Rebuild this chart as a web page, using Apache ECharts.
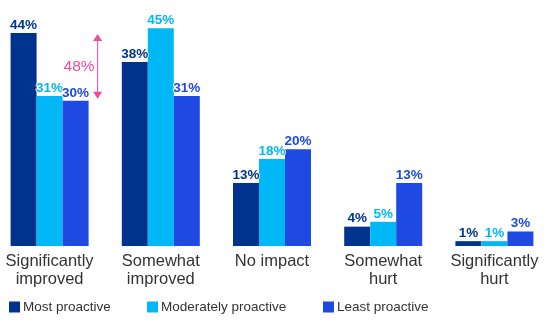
<!DOCTYPE html>
<html><head><meta charset="utf-8">
<script src="https://cdn.jsdelivr.net/npm/echarts@6/dist/echarts.min.js"></script>
<style>html,body{margin:0;padding:0;background:#fff;overflow:hidden;width:547px;height:323px;position:relative}#c{position:absolute;left:-6px;top:0;width:556px;height:323px}</style>
</head><body><div id="c"></div>
<script>
const categories = ['Significantly\nimproved', 'Somewhat\nimproved', 'No impact', 'Somewhat\nhurt', 'Significantly\nhurt'];
const seriesNames = ['Most proactive', 'Moderately proactive', 'Least proactive'];
const mostProactive = [44, 38, 13, 4, 1];
const moderatelyProactive = [31, 45, 18, 5, 1];
const leastProactive = [30, 31, 20, 13, 3];
const colors = ['#00338D', '#00B8F5', '#1E49E2'];
const annotationText = '48%';
const annotationRange = [44, 30];

const font = 'Liberation Sans, Arial, sans-serif';
const values = [mostProactive, moderatelyProactive, leastProactive];
const chart = echarts.init(document.getElementById('c'), null, {renderer: 'canvas'});

const series = values.map((v, i) => ({
  name: seriesNames[i],
  type: 'bar',
  data: v,
  barWidth: 26,
  barGap: '0%',
  itemStyle: {color: colors[i]},
  label: {
    show: true, position: 'top', distance: 1,
    formatter: '{c}%', color: colors[i], fontFamily: font,
    fontWeight: 'bold', fontSize: 13.5,
    textBorderColor: '#fff', textBorderWidth: 1.5
  },
  emphasis: {disabled: true}
}));

// the chart canvas is shifted 6px left, so legend offsets include +6
const legendX = [15, 153, 329];
const legends = seriesNames.map((n, i) => ({
  data: [n], left: legendX[i], top: 300, itemWidth: 11, itemHeight: 11,
  itemGap: 0, icon: 'rect', selectedMode: false,
  textStyle: {color: '#333', fontSize: 13.5, fontFamily: font, padding: [0, 0, 0, -2]},
  padding: 0
}));

chart.setOption({
  animation: false,
  color: colors,
  legend: legends,
  grid: {left: 0, right: 0, top: 4, bottom: 77, containLabel: false},
  xAxis: {
    type: 'category', data: categories,
    axisLine: {show: false}, axisTick: {show: false},
    axisLabel: {color: '#333', fontSize: 16.5, fontFamily: font, lineHeight: 18, margin: 6, interval: 0}
  },
  yAxis: {type: 'value', min: 0, max: 50, show: false, splitLine: {show: false}},
  series: series
});

// annotation arrow between the "Most" and "Least" values of the first category
const yTop = chart.convertToPixel({yAxisIndex: 0}, annotationRange[0]);
const yBot = chart.convertToPixel({yAxisIndex: 0}, annotationRange[1]);
const xc = chart.convertToPixel({xAxisIndex: 0}, 0);
const ax = xc + 48;
const pink = '#EE4B9B';
chart.setOption({
  graphic: [
    {type: 'line', shape: {x1: ax, y1: yTop + 6, x2: ax, y2: yBot - 6}, style: {stroke: pink, lineWidth: 1}},
    {type: 'polygon', shape: {points: [[ax, yTop + 1], [ax - 4.5, yTop + 8], [ax + 4.5, yTop + 8]]}, style: {fill: pink}},
    {type: 'polygon', shape: {points: [[ax, yBot - 2], [ax - 4.5, yBot - 9], [ax + 4.5, yBot - 9]]}, style: {fill: pink}},
    {type: 'text', style: {text: annotationText, x: ax - 3, y: (yTop + yBot) / 2, align: 'right', verticalAlign: 'middle', fill: pink, font: '15.5px ' + font}}
  ]
});
</script></body></html>
